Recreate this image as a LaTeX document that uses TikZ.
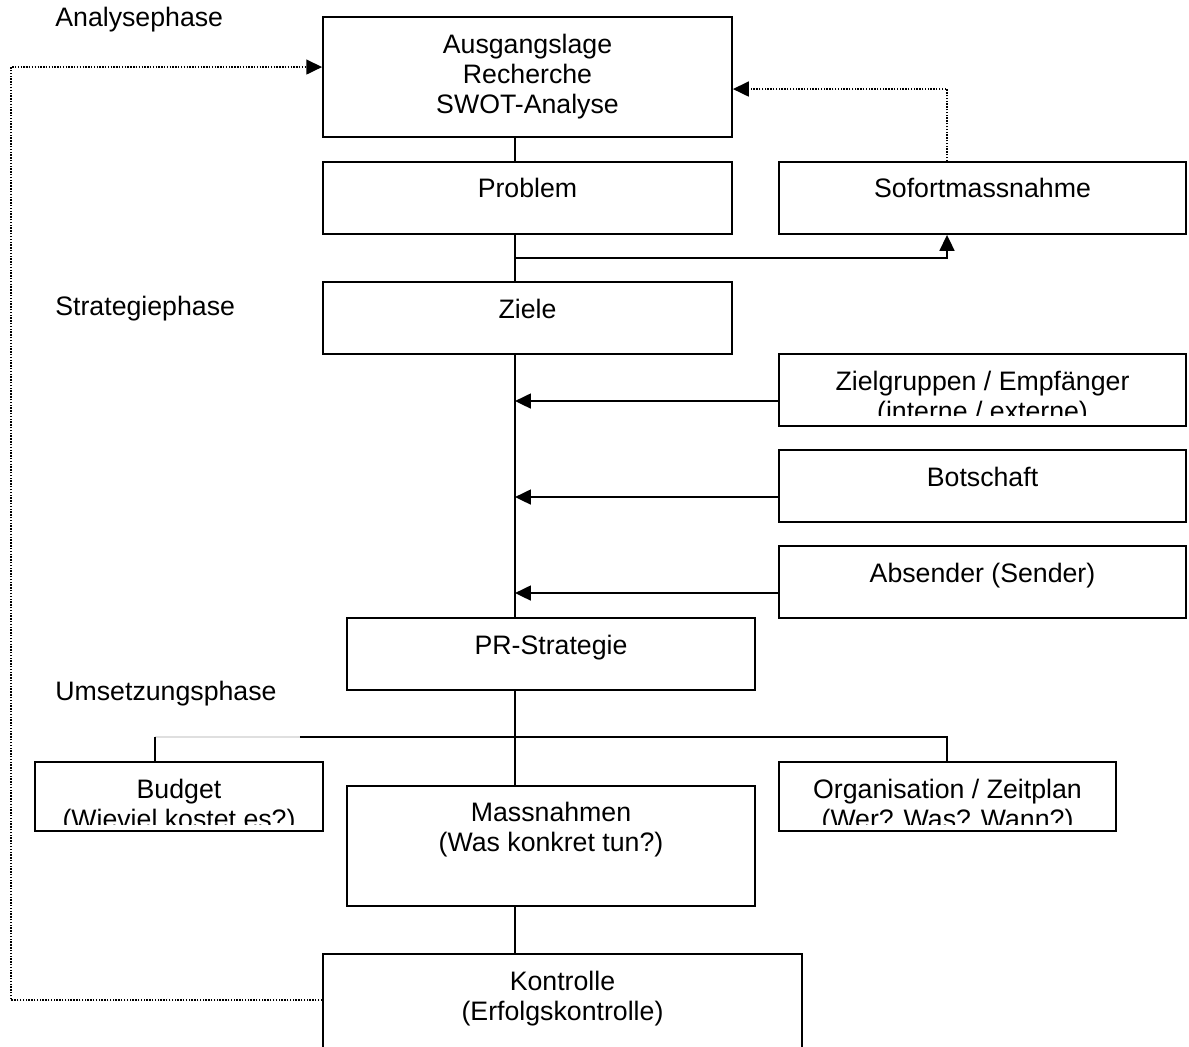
\documentclass[tikz,border=0pt]{standalone}
\usepackage{fontspec}
\setmainfont{Liberation Sans}
\usetikzlibrary{arrows.meta, positioning, calc}

\begin{document}
\begin{tikzpicture}[x=0.02cm, y=-0.02cm,
  blk/.style={rectangle, draw=black, line width=1.1pt, fill=white, inner sep=0pt},
  txt/.style={anchor=north, inner sep=0pt, align=center, font=\fontsize{15.2}{17.1}\selectfont},
  phase/.style={anchor=base west, inner sep=0pt, font=\fontsize{15.2}{17.1}\selectfont},
  flow/.style={line width=0.9pt},
  arr/.style={line width=0.9pt, -{Triangle[length=9pt, width=8.5pt]}},
  back/.style={line width=0.9pt, dash pattern=on 0.8pt off 0.8pt, -{Triangle[length=9pt, width=8.5pt]}}
]
  \useasboundingbox (0,0) rectangle (1189,1047);
  \clip (0,0) rectangle (1189,1047);

  % vertical rails
  \coordinate (sp) at (515,0);
  \coordinate (rt) at (947,0);
  \coordinate (lf) at (155,0);
  \coordinate (lb) at (11,0);
  \coordinate (br) at (515,258);
  \coordinate (jn) at (515,737);
  \coordinate (jg) at (300,737);

  % phase labels
  \node[phase] (ph1) at (55,27) {Analysephase};
  \node[phase] (ph2) at (55,316) {Strategiephase};
  \node[phase] (ph3) at (55,700) {Umsetzungsphase};

  % boxes
  \node[blk, minimum width=8.18cm, minimum height=2.4cm] (lage) at (527.5,77) {};
  \node[txt] (lage-t) at ($(lage.north)+(0,18)$) {Ausgangslage\\Recherche\\SWOT-Analyse};
  \node[blk, minimum width=8.18cm, minimum height=1.44cm] (prob) at (527.5,198) {};
  \node[txt] (prob-t) at ($(prob.north)+(0,17)$) {Problem};
  \node[blk, minimum width=8.14cm, minimum height=1.44cm] (sofort) at (982.5,198) {};
  \node[txt] (sofort-t) at ($(sofort.north)+(0,17)$) {Sofortmassnahme};
  \node[blk, minimum width=8.18cm, minimum height=1.44cm] (ziele) at (527.5,318) {};
  \node[txt] (ziele-t) at ($(ziele.north)+(0,18)$) {Ziele};
  \node[blk, minimum width=8.14cm, minimum height=1.44cm] (zg) at (982.5,390) {};
  \begin{scope}
    \clip (zg.north west) rectangle ($(zg.south east)+(0,-11)$);
    \node[txt] (zg-t) at ($(zg.north)+(0,18)$) {Zielgruppen / Empfänger\\(interne / externe)};
  \end{scope}
  \node[blk, minimum width=8.14cm, minimum height=1.44cm] (bot) at (982.5,486) {};
  \node[txt] (bot-t) at ($(bot.north)+(0,18)$) {Botschaft};
  \node[blk, minimum width=8.14cm, minimum height=1.44cm] (abs) at (982.5,582) {};
  \node[txt] (abs-t) at ($(abs.north)+(0,18)$) {Absender (Sender)};
  \node[blk, minimum width=8.16cm, minimum height=1.44cm] (prs) at (551,654) {};
  \node[txt] (prs-t) at ($(prs.north)+(0,18)$) {PR-Strategie};
  \node[blk, minimum width=5.76cm, minimum height=1.38cm] (bud) at (179,796.5) {};
  \begin{scope}
    \clip (bud.north west) rectangle ($(bud.south east)+(0,-7)$);
    \node[txt] (bud-t) at ($(bud.north)+(0,18)$) {Budget\\(Wieviel kostet es?)};
  \end{scope}
  \node[blk, minimum width=8.16cm, minimum height=2.4cm] (mass) at (551,846) {};
  \node[txt] (mass-t) at ($(mass.north)+(0,17)$) {Massnahmen\\(Was konkret tun?)};
  \node[blk, minimum width=6.74cm, minimum height=1.38cm] (orga) at (947.5,796.5) {};
  \begin{scope}
    \clip (orga.north west) rectangle ($(orga.south east)+(0,-7)$);
    \node[txt] (orga-t) at ($(orga.north)+(0,18)$) {Organisation / Zeitplan\\(Wer? Was? Wann?)};
  \end{scope}
  \node[blk, minimum width=9.58cm, minimum height=2.4cm] (kon) at (562.5,1014) {};
  \node[txt] (kon-t) at ($(kon.north)+(0,18)$) {Kontrolle\\(Erfolgskontrolle)};

  % connector ends on the box sides
  \coordinate (zg-in) at ($(zg.north west)+(0,48)$);
  \coordinate (bot-in) at ($(bot.north west)+(0,48)$);
  \coordinate (abs-in) at ($(abs.north west)+(0,48)$);
  \coordinate (lage-e) at ($(lage.north east)+(0,73)$);
  \coordinate (lage-w) at ($(lage.north west)+(0,51)$);
  \coordinate (kon-w) at ($(kon.north west)+(0,47)$);

  % main flow
  \draw[flow] (lage.south -| sp) -- (prob.north -| sp);
  \draw[flow] (prob.south -| sp) -- (ziele.north -| sp);
  \draw[arr] (br) -- (br -| rt) -- (sofort.south -| rt);
  \draw[flow] (ziele.south -| sp) -- (prs.north -| sp);
  \draw[arr] (zg-in) -- (zg-in -| sp);
  \draw[arr] (bot-in) -- (bot-in -| sp);
  \draw[arr] (abs-in) -- (abs-in -| sp);
  \draw[flow] (prs.south -| sp) -- (jn);
  \draw[flow] (jg) -- (jn -| rt) -- (orga.north -| rt);
  \draw[gray!25, line width=0.6pt] (jn -| lf) -- (jg);
  \draw[flow] (jn -| lf) -- (bud.north -| lf);
  \draw[flow] (jn) -- (mass.north -| sp);
  \draw[flow] (mass.south -| sp) -- (kon.north -| sp);

  % feedback loops
  \draw[back] (sofort.north -| rt) -- (lage-e -| rt) -- (lage-e);
  \draw[back] (kon-w) -- (kon-w -| lb) -- (lage-w -| lb) -- (lage-w);
\end{tikzpicture}
\end{document}
